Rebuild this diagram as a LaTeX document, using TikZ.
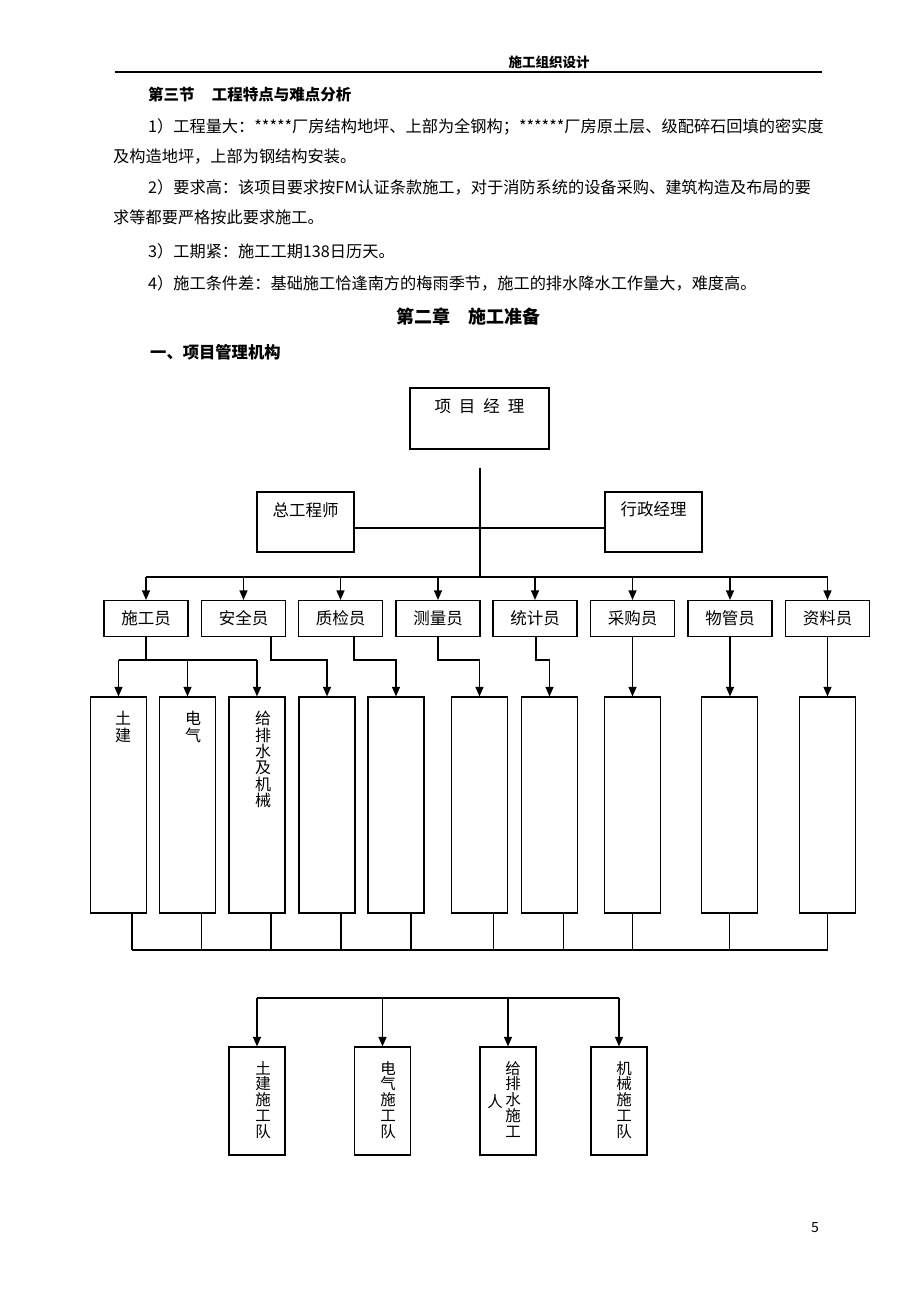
\documentclass[tikz,border=0pt]{standalone}
\usepackage{fontspec}
\setmainfont{Noto Sans CJK SC}
\usetikzlibrary{arrows.meta,calc}
\tikzset{
  obox/.style={draw=black, line width=1.2pt, inner sep=0pt, rectangle},
  conn/.style={line width=1.2pt},
  arr/.style={line width=1.2pt, -{Triangle[length=9.5pt,width=8pt]}},
  lbl/.style={inner sep=0pt, font=\fontsize{16.5}{16.5}\selectfont},
  vlbl/.style={inner sep=0pt, align=center, anchor=north, font=\fontsize{16}{16.4}\selectfont},
  vlbs/.style={inner sep=0pt, align=center, anchor=north, font=\fontsize{15.5}{15.75}\selectfont},
  body/.style={inner sep=0pt, anchor=west, font=\fontsize{16.2}{16.2}\selectfont},
}
\begin{document}
\begin{tikzpicture}[x=1pt,y=-1pt]
\useasboundingbox (0,0) rectangle (920,1302);
% header
\node[inner sep=0pt, font=\fontsize{13.5}{13.5}\selectfont\bfseries] (hdr) at (549,62) {施工组织设计};
\coordinate (hl) at (115,72);
\coordinate (hr) at (822,72);
\draw[line width=1.3pt] (hl) -- (hr);
% text
\node[body, font=\fontsize{15.5}{15.5}\selectfont\bfseries] (sec) at (148,95) {第三节\hspace{1.1em}工程特点与难点分析};
\node[body] (l1) at (148,127) {1）工程量大：*****厂房结构地坪、上部为全钢构；******厂房原土层、级配碎石回填的密实度};
\node[body] (l2) at (113,157) {及构造地坪，上部为钢结构安装。};
\node[body] (l3) at (148,187) {2）要求高：该项目要求按FM认证条款施工，对于消防系统的设备采购、建筑构造及布局的要};
\node[body] (l4) at (113,217) {求等都要严格按此要求施工。};
\node[body] (l5) at (148,251) {3）工期紧：施工工期138日历天。};
\node[body] (l6) at (148,283) {4）施工条件差：基础施工恰逢南方的梅雨季节，施工的排水降水工作量大，难度高。};
\node[inner sep=0pt, font=\fontsize{18}{18}\selectfont\bfseries] (ch) at (468,317) {第二章\hspace{1em}施工准备};
\node[body, font=\fontsize{16.3}{16.3}\selectfont\bfseries] (s1) at (150,352) {一、项目管理机构};
% top boxes
\node[obox, minimum width=139pt, minimum height=61pt] (pm) at (479.5,418.5) {};
\node[lbl] (pmt) at (479.5,406) {项\hspace{8pt}目\hspace{8pt}经\hspace{8pt}理};
\node[obox, minimum width=97pt, minimum height=60pt] (ce) at (305.5,522) {};
\node[lbl] (cet) at (305.5,510) {总工程师};
\node[obox, minimum width=97pt, minimum height=60pt] (am) at (653.5,522) {};
\node[lbl] (amt) at (653.5,509) {行政经理};
\draw[conn] ([yshift=-6pt]ce.east) -- ([yshift=-6pt]am.west);
\coordinate (pmtop) at (480,468);
\coordinate (busM) at (480,577);
\draw[conn] (pmtop) -- (busM);
% row boxes
\foreach \n/\x/\t in {1/146/施工员,2/243.5/安全员,3/340.5/质检员,4/438/测量员,5/535/统计员,6/632.5/采购员,7/730/物管员,8/827.5/资料员}{
  \node[obox, minimum width=84pt, minimum height=36pt, font=\fontsize{16.5}{16.5}\selectfont] (r\n) at (\x,618.5) {\t};
}
\coordinate (busL) at (146,577);
\coordinate (busR) at (827.5,577);
\draw[conn] (busL) -- (busR);
\foreach \n in {1,...,8}{\draw[arr] (r\n.north |- busL) -- (r\n.north);}
% tall boxes
\foreach \n/\x in {1/118.5,2/187.5,3/257,4/327,5/396,6/479.5,7/549.5,8/632.5,9/729.5,10/827.5}{
  \node[obox, minimum width=56pt, minimum height=216pt] (t\n) at (\x,805) {};
}
\node[vlbl] (t1t) at (123,711) {土\\建};
\node[vlbl] (t2t) at (193,711) {电\\气};
\node[vlbl] (t3t) at (263,711) {给\\排\\水\\及\\机\\械};
% row -> tall connectors
\coordinate (lvl) at (0,660);
\draw[conn] (r1.south) -- (r1.south |- lvl);
\draw[conn] (t1.north |- lvl) -- (t3.north |- lvl);
\foreach \n in {1,2,3}{\draw[arr] (t\n.north |- lvl) -- (t\n.north);}
\draw[arr] ([xshift=27.5pt]r2.south) -- ([xshift=27.5pt]r2.south |- lvl) -| (t4.north);
\draw[arr] ([xshift=13.5pt]r3.south) -- ([xshift=13.5pt]r3.south |- lvl) -| (t5.north);
\draw[arr] (r4.south) -- (r4.south |- lvl) -| (t6.north);
\draw[arr] ([xshift=1pt]r5.south) -- ([xshift=1pt]r5.south |- lvl) -| (t7.north);
\draw[arr] (r6.south) -- (r6.south |- t8.north);
\draw[arr] (r7.south) -- (r7.south |- t9.north);
\draw[arr] (r8.south) -- (r8.south |- t10.north);
% bottom bus
\coordinate (lvl2) at (0,950);
\foreach \n/\s in {1/13.5,2/14,3/14,4/14,5/15,6/14,7/14,8/0,9/0,10/0}{
  \draw[conn] ([xshift=\s pt]t\n.south) -- ([xshift=\s pt]t\n.south |- lvl2);
}
\draw[conn] ([xshift=13.5pt]t1.south |- lvl2) -- (t10.south |- lvl2);
% bottom teams
\foreach \n/\x in {1/257,2/382.5,3/508,4/619}{
  \node[obox, minimum width=56pt, minimum height=108pt] (b\n) at (\x,1101) {};
}
\coordinate (lvl3) at (0,998);
\draw[conn] (b1.north |- lvl3) -- (b4.north |- lvl3);
\foreach \n in {1,...,4}{\draw[arr] (b\n.north |- lvl3) -- (b\n.north);}
\node[vlbs] (b1t) at (263,1061) {土\\建\\施\\工\\队};
\node[vlbs] (b2t) at (388,1061) {电\\气\\施\\工\\队};
\node[vlbs] (b3t) at (513,1061) {给\\排\\水\\施\\工};
\node[inner sep=0pt, font=\fontsize{15.5}{15.5}\selectfont] (b3r) at (495,1102) {人};
\node[vlbs] (b4t) at (624,1061) {机\\械\\施\\工\\队};
% page number
\node[inner sep=0pt, font=\fontsize{14}{14}\selectfont] (pg) at (815,1228) {5};
\end{tikzpicture}
\end{document}
